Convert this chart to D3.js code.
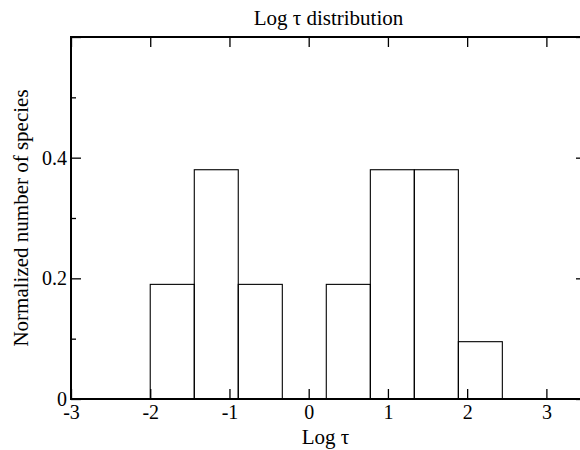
<html>
<head>
  <script src="https://d3js.org/d3.v7.min.js"></script>
  <style>
    body { margin: 0; background: #fff; }
    text { font-family: 'Liberation Serif', 'Times New Roman', serif; fill: #000; }
    .axis text { font-size: 20px; }
    .axis line { stroke: #000; stroke-width: 1.3; }
    .axis .domain { stroke: none; }
  </style>
</head>
<body>
  <svg id="histo" width="580" height="450"></svg>
  <script>
    // histogram bins (left edges + last right edge) and normalized heights
    const binEdges = [-2, -1.444, -0.889, -0.333, 0.222, 0.778, 1.333, 1.889, 2.444];
    const binValues = [0.19, 0.38, 0.19, 0, 0.19, 0.38, 0.38, 0.095];
    const xTicks = [-3, -2, -1, 0, 1, 2, 3];
    const xLabels = ["-3", "-2", "-1", "0", "1", "2", "3"];
    const yMajor = [0, 0.2, 0.4, 0.6];
    const yMinor = [0.1, 0.3, 0.5];
    const yLabels = ["0", "0.2", "0.4", ""];

    const svg = d3.select("svg#histo");
    const margin = { top: 37, left: 71 };
    const chartWidth = 515;
    const chartHeight = 362;

    const xScale = d3.scaleLinear().domain([-3, 3.5]).range([0, chartWidth]);
    const yScale = d3.scaleLinear().domain([0, 0.6]).range([chartHeight, 0]);

    const chart = svg.append("g")
      .attr("transform", "translate(" + margin.left + "," + margin.top + ")");

    // bars
    const bins = binValues.map((v, i) => ({ x0: binEdges[i], x1: binEdges[i + 1], v: v }));
    chart.selectAll("rect.bar")
      .data(bins.filter(d => d.v > 0))
      .enter()
      .append("rect")
      .attr("class", "bar")
      .attr("x", d => xScale(d.x0))
      .attr("y", d => yScale(d.v))
      .attr("width", d => xScale(d.x1) - xScale(d.x0))
      .attr("height", d => yScale(0) - yScale(d.v))
      .attr("fill", "none")
      .attr("stroke", "#000")
      .attr("stroke-width", 1.1);

    // axes, ticks pointing inward
    chart.append("g").attr("class", "axis")
      .attr("transform", "translate(0," + chartHeight + ")")
      .call(d3.axisBottom(xScale).tickValues(xTicks).tickSize(-10).tickSizeOuter(0).tickPadding(6)
        .tickFormat((d, i) => xLabels[i]));

    chart.append("g").attr("class", "axis")
      .call(d3.axisTop(xScale).tickValues(xTicks).tickSize(-10).tickSizeOuter(0).tickFormat(""));

    chart.append("g").attr("class", "axis")
      .call(d3.axisLeft(yScale).tickValues(yMajor).tickSize(-10).tickSizeOuter(0).tickPadding(4)
        .tickFormat((d, i) => yLabels[i]));
    chart.append("g").attr("class", "axis")
      .call(d3.axisLeft(yScale).tickValues(yMinor).tickSize(-5).tickSizeOuter(0).tickFormat(""));

    chart.append("g").attr("class", "axis")
      .attr("transform", "translate(" + chartWidth + ",0)")
      .call(d3.axisRight(yScale).tickValues(yMajor).tickSize(-10).tickSizeOuter(0).tickFormat(""));
    chart.append("g").attr("class", "axis")
      .attr("transform", "translate(" + chartWidth + ",0)")
      .call(d3.axisRight(yScale).tickValues(yMinor).tickSize(-5).tickSizeOuter(0).tickFormat(""));

    // frame
    chart.append("rect")
      .attr("width", chartWidth)
      .attr("height", chartHeight)
      .attr("fill", "none")
      .attr("stroke", "#000")
      .attr("stroke-width", 2);

    // labels
    svg.append("text")
      .attr("x", margin.left + chartWidth / 2)
      .attr("y", 25)
      .attr("text-anchor", "middle")
      .attr("font-size", "21px")
      .text("Log τ distribution");

    svg.append("text")
      .attr("x", margin.left + chartWidth / 2 - 3)
      .attr("y", 444)
      .attr("text-anchor", "middle")
      .attr("font-size", "21px")
      .text("Log τ");

    svg.append("text")
      .attr("transform", "translate(28," + (margin.top + chartHeight / 2) + ") rotate(-90)")
      .attr("text-anchor", "middle")
      .attr("font-size", "21px")
      .text("Normalized number of species");
  </script>
</body>
</html>
